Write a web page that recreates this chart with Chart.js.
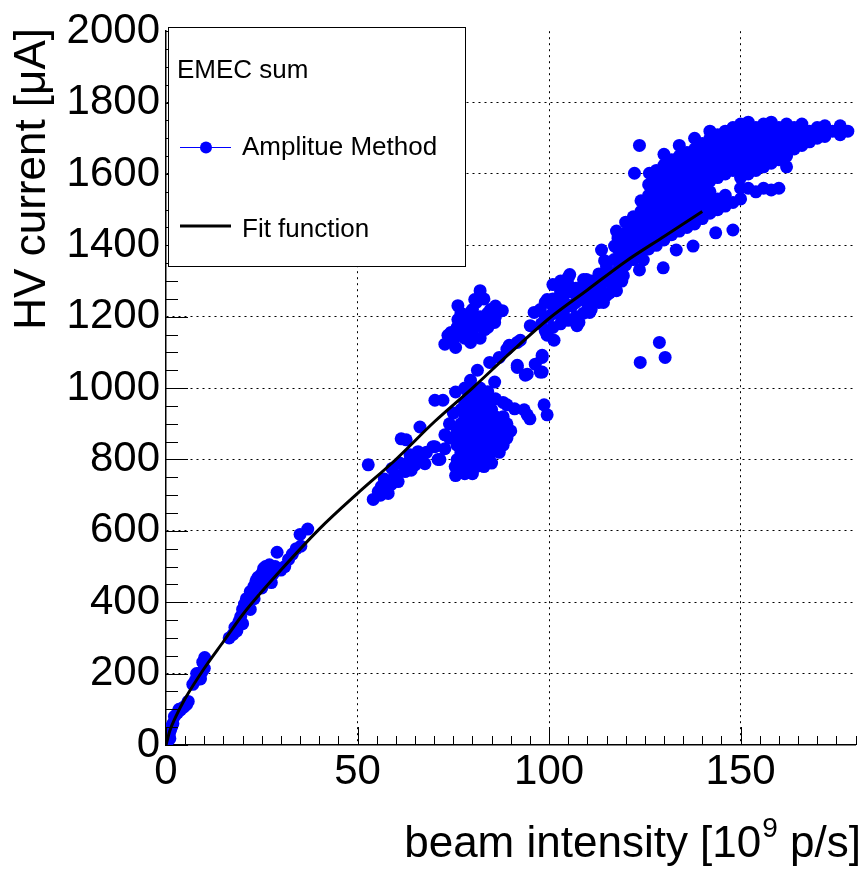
<!DOCTYPE html>
<html>
<head>
<meta charset="utf-8">
<script src="https://cdn.jsdelivr.net/npm/chart.js@4.4.1/dist/chart.umd.min.js"></script>
<style>
  html, body { margin: 0; padding: 0; background: #fff; }
  #wrap { width: 862px; height: 870px; position: relative; }
</style>
</head>
<body>
<div id="wrap"><canvas id="hvChart"></canvas></div>
<script>
// axis ticks
const xTickValues = [0, 50, 100, 150];
const yTickValues = [0, 200, 400, 600, 800, 1000, 1200, 1400, 1600, 1800, 2000];

// fit function
const fitX = [0, 1, 2.5, 5, 10, 15, 20, 30, 40, 50, 60, 70, 80, 90, 100, 110, 120, 130, 140];
const fitY = [0, 40, 78, 130, 215, 290, 365, 490, 605, 705, 800, 905, 1000, 1100, 1195, 1275, 1355, 1425, 1495];

// amplitude method points, [beam intensity, HV current], by cluster
const nearZero = [[0.2, 2], [0.4, 12], [0.6, 22], [0.9, 32], [1.2, 42], [1.5, 52], [0.5, 30], [1.0, 18], [1.8, 60]];
const lowA = [[2.2, 80], [3, 90], [3.8, 98], [4.6, 106], [5.4, 114], [5.8, 122], [3.4, 100]];
const lowB = [[7, 170], [7.6, 180], [8.2, 188], [8.8, 196], [9.4, 205], [10, 215], [9, 185], [10.1, 245], [8, 200], [9.6, 232]];
const midA = [
  [16.5, 300], [17.5, 310], [18, 330], [19, 345], [19.5, 360], [20, 380], [20.5, 395], [21, 410], [21.5, 400],
  [22, 430], [22.5, 420], [23, 445], [23.5, 460], [24, 470], [24.5, 450], [25, 480], [25.5, 495], [26, 500],
  [26.5, 470], [27, 505], [27.5, 455], [28, 480], [28.5, 500], [29, 540], [30, 490], [31, 500], [32, 520],
  [33, 535], [34, 550], [35, 590], [37, 605], [20, 340], [22, 380], [18.5, 320], [25, 440], [23, 410], [35.2, 557]
];
const midB = [
  [52.8, 785], [54.1, 688], [56.2, 724], [58, 705], [59.8, 758], [61.4, 858], [62.7, 855], [63.7, 813],
  [65, 785], [65.8, 822], [66.3, 891], [67.6, 788], [69.7, 836], [71, 800], [72.8, 830], [72.8, 869],
  [60.6, 738], [55.4, 710], [58.8, 730], [62.4, 766], [70.2, 966], [72.3, 966], [70.2, 836], [71.5, 800],
  [57, 745], [61, 790], [64, 770], [66, 810], [59, 775], [63, 790], [68, 820], [56, 700]
];
const bigBlob = [
  [76, 760], [78, 760], [80, 760], [75.6, 755], [77, 770], [85, 790],
  [75.5, 780], [77, 780], [79, 780], [81, 780], [83, 780],
  [76, 800], [78, 800], [80, 800], [82, 800], [84, 800],
  [77, 820], [79, 820], [81, 820], [83, 820], [85, 820], [87, 820],
  [76, 840], [78, 840], [80, 840], [82, 840], [84, 840], [86, 840], [88, 840],
  [77, 860], [79, 860], [81, 860], [83, 860], [85, 860], [87, 860], [74, 860], [89, 860],
  [76, 880], [78, 880], [80, 880], [82, 880], [84, 880], [86, 880], [88, 880], [90, 880],
  [77, 900], [79, 900], [81, 900], [83, 900], [85, 900], [87, 900], [89, 900], [74, 900],
  [78, 920], [80, 920], [82, 920], [84, 920], [86, 920], [88, 920], [75, 930],
  [77, 940], [79, 940], [81, 940], [83, 940], [85, 940],
  [78, 960], [80, 960], [82, 960], [84, 960], [88, 960], [86, 970],
  [79, 980], [81, 980], [83, 980], [75.6, 989], [80, 1000], [82, 1000], [84, 990], [78, 1000]
];
const sideBlob = [
  [98.7, 953], [99.5, 925], [94.3, 925], [93.5, 939], [95, 914], [91, 942], [89, 953]
];
const alongCurve = [
  [79.5, 1022], [81.3, 1050], [84.5, 1072], [87, 1086], [89.6, 1120], [92.5, 1134], [85.8, 1017],
  [91.7, 1058], [93.8, 1036], [96.4, 1067], [98.2, 1045], [98.2, 1092], [91.7, 1128], [89, 1109],
  [91.7, 1064], [94.3, 1039], [97.7, 1045], [98.2, 1086]
];
const upperLeft = [
  [82, 1273], [80.6, 1248], [76.2, 1231], [87.8, 1217], [84.7, 1220], [73.6, 1148], [72.8, 1123],
  [75.6, 1114], [79.5, 1128], [83.2, 1164], [78, 1175], [76.2, 1192], [81.3, 1192], [84, 1192],
  [79.5, 1212], [74.4, 1156], [77, 1148], [85.8, 1184], [80, 1160], [82, 1140],
  [76, 1170], [78, 1200], [80, 1220], [82, 1200], [84, 1210], [86, 1200], [78, 1140], [80, 1180],
  [82, 1175], [84, 1170], [77, 1210], [81, 1240], [83, 1250], [79, 1160], [75, 1135], [86, 1230]
];
const band100 = [
  [105.4, 1318], [96.1, 1212], [95.1, 1175], [99.5, 1148], [101.3, 1134], [107.3, 1175], [110.6, 1212],
  [114.2, 1267], [117.6, 1273], [116.8, 1304], [109, 1304], [102, 1248], [97.7, 1220], [103.9, 1220],
  [99.5, 1248], [106.5, 1267], [112.4, 1248], [109.8, 1259], [122, 1379], [123.6, 1331], [119.4, 1315],
  [107.3, 1276], [109.8, 1304], [112.4, 1259], [109.8, 1240], [117.6, 1295], [115.8, 1267], [114.2, 1240],
  [118.4, 1331], [120.2, 1359], [107.8, 1184], [113.7, 1387], [114.5, 1357], [117.6, 1440], [117.1, 1398],
  [100, 1200], [102, 1210], [104, 1240], [104, 1200], [106, 1230], [108, 1250], [105, 1290], [103, 1270],
  [101, 1230], [98, 1180], [111, 1280], [113, 1300], [115, 1320], [119, 1345], [121, 1360],
  [99, 1160], [99, 1200], [99, 1240], [101, 1170], [101, 1210], [101, 1250], [101, 1290],
  [103, 1180], [103, 1220], [103, 1260], [103, 1300], [105, 1190], [105, 1230], [105, 1270], [105, 1310],
  [107, 1200], [107, 1240], [107, 1280], [109, 1210], [109, 1250], [109, 1290], [111, 1220], [111, 1260],
  [111, 1300], [113, 1240], [113, 1280], [113, 1320], [115, 1260], [115, 1300], [115, 1340],
  [117, 1280], [117, 1320], [117, 1360], [119, 1300], [119, 1340], [119, 1380]
];
const strays = [
  [123.8, 1072], [128.8, 1128], [130.3, 1086], [123.6, 1680], [122.3, 1602], [126.2, 1602],
  [143.5, 1435], [148, 1443], [137.6, 1398], [133.2, 1387], [129.8, 1337], [124.6, 1359], [121, 1387]
];
const upperBlob = [
  [118, 1330], [118, 1360], [118, 1390], [118, 1420],
  [120, 1345], [120, 1375], [120, 1405], [120, 1435], [120, 1465],
  [122, 1360], [122, 1390], [122, 1420], [122, 1450], [122, 1480],
  [124, 1375], [124, 1405], [124, 1435], [124, 1465], [124, 1495], [124, 1525],
  [126, 1390], [126, 1420], [126, 1450], [126, 1480], [126, 1510], [126, 1540], [126, 1570],
  [128, 1400], [128, 1430], [128, 1460], [128, 1490], [128, 1520], [128, 1550], [128, 1580], [128, 1610],
  [130, 1415], [130, 1445], [130, 1475], [130, 1505], [130, 1535], [130, 1565], [130, 1595], [130, 1625], [130, 1655],
  [132, 1430], [132, 1460], [132, 1490], [132, 1520], [132, 1550], [132, 1580], [132, 1610], [132, 1640],
  [134, 1440], [134, 1470], [134, 1500], [134, 1530], [134, 1560], [134, 1590], [134, 1620], [134, 1650], [134, 1680],
  [136, 1450], [136, 1480], [136, 1510], [136, 1540], [136, 1570], [136, 1600], [136, 1630], [136, 1660],
  [138, 1460], [138, 1490], [138, 1520], [138, 1550], [138, 1580], [138, 1610], [138, 1640], [138, 1670], [138, 1700],
  [140, 1475], [140, 1505], [140, 1535], [140, 1565], [140, 1595], [140, 1625], [140, 1655], [140, 1685],
  [142, 1490], [142, 1520], [142, 1550], [142, 1580], [142, 1610], [142, 1640], [142, 1670], [142, 1700], [142, 1720],
  [144, 1500], [144, 1530], [144, 1590], [144, 1620], [144, 1650], [144, 1680], [144, 1710],
  [146, 1510], [146, 1540], [146, 1600], [146, 1630], [146, 1660], [146, 1690], [146, 1720],
  [148, 1520], [148, 1610], [148, 1640], [148, 1670], [148, 1700], [148, 1730],
  [150, 1530], [150, 1560], [150, 1590], [150, 1620], [150, 1650], [150, 1680], [150, 1710], [150, 1740],
  [152, 1560], [152, 1600], [152, 1630], [152, 1660], [152, 1690], [152, 1720], [152, 1745],
  [154, 1550], [154, 1610], [154, 1640], [154, 1670], [154, 1700], [154, 1730],
  [156, 1560], [156, 1620], [156, 1650], [156, 1680], [156, 1710], [156, 1740],
  [158, 1555], [158, 1630], [158, 1660], [158, 1690], [158, 1720], [158, 1745],
  [160, 1560], [160, 1640], [160, 1670], [160, 1700], [160, 1730],
  [162, 1620], [162, 1650], [162, 1680], [162, 1710], [162, 1740],
  [164, 1670], [164, 1700], [164, 1730], [166, 1680], [166, 1710], [166, 1740],
  [168, 1690], [168, 1720], [170, 1700], [170, 1730], [172, 1705], [172, 1735],
  [174, 1720], [176, 1710], [176, 1735], [178, 1720]
];

const ampPoints = [].concat(nearZero, lowA, lowB, midA, midB, bigBlob, sideBlob, alongCurve,
  upperLeft, band100, strays, upperBlob).map(p => ({ x: p[0], y: p[1] }));
const fitPoints = fitX.map((x, i) => ({ x: x, y: fitY[i] }));

const FONT = "'Liberation Sans', Arial, Helvetica, sans-serif";

// ROOT style inner ticks, axis titles and the legend box
const rootDecor = {
  id: "rootDecor",
  afterDatasetsDraw(chart) {
    const ctx = chart.ctx;
    const xs = chart.scales.x, ys = chart.scales.y;
    const a = chart.chartArea;
    ctx.save();
    ctx.strokeStyle = "#000";
    ctx.lineWidth = 1;
    ctx.beginPath();
    for (let v = 0; v <= 2000; v += 50) {
      const py = Math.round(ys.getPixelForValue(v)) + 0.5;
      const len = v % 200 === 0 ? 22 : 12;
      ctx.moveTo(a.left, py);
      ctx.lineTo(a.left + len, py);
    }
    for (let v = 0; v <= 180; v += 5) {
      const px = Math.round(xs.getPixelForValue(v)) + 0.5;
      const len = v % 50 === 0 ? 18 : 9;
      ctx.moveTo(px, a.bottom);
      ctx.lineTo(px, a.bottom - len);
    }
    ctx.stroke();
    ctx.restore();
  },
  afterDraw(chart) {
    const ctx = chart.ctx;
    ctx.save();
    ctx.fillStyle = "#000";

    // x title with superscript
    ctx.textBaseline = "alphabetic";
    ctx.textAlign = "left";
    const big = "44px " + FONT, small = "28px " + FONT;
    const p1 = "beam intensity [10", p2 = "9", p3 = " p/s]";
    ctx.font = big;
    const w1 = ctx.measureText(p1).width, w3 = ctx.measureText(p3).width;
    ctx.font = small;
    const w2 = ctx.measureText(p2).width;
    let x0 = 860 - (w1 + w2 + w3);
    const base = 857;
    ctx.font = big;
    ctx.fillText(p1, x0, base);
    ctx.font = small;
    ctx.fillText(p2, x0 + w1 + 1, base - 20);
    ctx.font = big;
    ctx.fillText(p3, x0 + w1 + w2 + 1, base);

    // y title
    ctx.save();
    ctx.translate(45, 28);
    ctx.rotate(-Math.PI / 2);
    ctx.textAlign = "right";
    ctx.font = big;
    ctx.fillText("HV current [\u03BCA]", 0, 0);
    ctx.restore();

    // legend box
    ctx.fillStyle = "#fff";
    ctx.fillRect(168, 27, 297, 239);
    ctx.strokeStyle = "#000";
    ctx.lineWidth = 1;
    ctx.strokeRect(168.5, 27.5, 297, 239);
    ctx.fillStyle = "#000";
    ctx.font = "26px " + FONT;
    ctx.textAlign = "left";
    ctx.fillText("EMEC sum", 177, 78);
    ctx.fillText("Amplitue Method", 242, 155);
    ctx.fillText("Fit function", 242, 237);
    ctx.strokeStyle = "#0000ff";
    ctx.beginPath();
    ctx.moveTo(180, 147.5);
    ctx.lineTo(231, 147.5);
    ctx.stroke();
    ctx.fillStyle = "#0000ff";
    ctx.beginPath();
    ctx.arc(206, 147.5, 6, 0, Math.PI * 2);
    ctx.fill();
    ctx.strokeStyle = "#000";
    ctx.lineWidth = 3;
    ctx.beginPath();
    ctx.moveTo(180, 226);
    ctx.lineTo(231, 226);
    ctx.stroke();
    ctx.restore();
  }
};

const gridColor = (max) => (c) => (c.tick && (c.tick.value === 0 || c.tick.value === max)) ? "rgba(0,0,0,0)" : "#000";

const hvChart = new Chart(document.getElementById("hvChart").getContext("2d"), {
  type: "scatter",
  data: {
    datasets: [
      {
        label: "Fit function",
        data: fitPoints,
        showLine: true,
        borderColor: "#000",
        borderWidth: 3,
        pointRadius: 0,
        cubicInterpolationMode: "monotone",
        order: 0,
      },
      {
        label: "Amplitue Method",
        data: ampPoints,
        backgroundColor: "#0000ff",
        borderWidth: 0,
        pointRadius: 6.5,
        order: 1,
      },
    ],
  },
  options: {
    responsive: true,
    maintainAspectRatio: false,
    animation: false,
    devicePixelRatio: 1,
    layout: { padding: { top: 27, right: 1, left: 0, bottom: 0 } },
    scales: {
      x: {
        type: "linear",
        min: 0,
        max: 180,
        afterFit: (s) => { s.height = 125; },
        afterBuildTicks: (s) => { s.ticks = xTickValues.map(v => ({ value: v })); },
        ticks: {
          color: "#000",
          font: { family: FONT, size: 42 },
          padding: 2,
          maxRotation: 0,
          autoSkip: false,
          callback: (v) => String(v),
        },
        grid: { color: gridColor(180), lineWidth: 1, drawTicks: false, tickLength: 0 },
        border: { display: true, color: "#000", width: 1.5, dash: [2, 4] },
      },
      y: {
        type: "linear",
        min: 0,
        max: 2000,
        afterFit: (s) => { s.width = 166; },
        afterBuildTicks: (s) => { s.ticks = yTickValues.map(v => ({ value: v })); },
        ticks: {
          color: "#000",
          font: { family: FONT, size: 42 },
          padding: 6,
          autoSkip: false,
          callback: (v) => String(v),
        },
        grid: { color: gridColor(2000), lineWidth: 1, drawTicks: false, tickLength: 0 },
        border: { display: true, color: "#000", width: 1.5, dash: [2, 4] },
      },
    },
    plugins: {
      legend: { display: false },
      tooltip: { enabled: false },
    },
  },
  plugins: [rootDecor],
});
</script>
</body>
</html>
